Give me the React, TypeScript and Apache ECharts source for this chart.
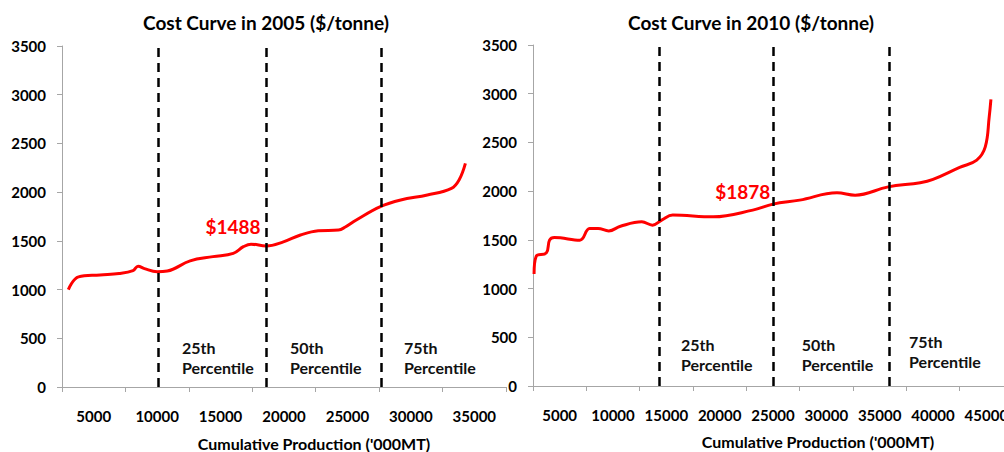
import { useEffect, useRef } from "react";
import * as echarts from "echarts";

// Cumulative production ('000MT) and cash cost ($/tonne) along each cost curve
const PRODUCTION_2005 = [
  3000, 3800, 5500, 7000, 8100, 8500, 9000, 10000, 10800, 12600, 14400, 16000,
  16800, 17400, 18600, 19950, 21300, 22700, 24300, 24800, 25700, 27600, 29200,
  31300, 33200, 33800, 34300,
];
const COST_2005 = [
  1000, 1130, 1150, 1165, 1195, 1240, 1215, 1183, 1190, 1295, 1338, 1372,
  1440, 1466, 1447, 1490, 1560, 1604, 1611, 1639, 1714, 1851, 1919, 1971,
  2039, 2125, 2296,
];

const PRODUCTION_2010 = [
  2600, 2800, 3750, 4050, 4500, 6900, 7800, 8600, 9600, 10700, 12700, 13700,
  14600, 15600, 19400, 23100, 25000, 27500, 31000, 32700, 35800, 38800, 40000,
  42500, 44100, 44900, 45270, 45430,
];
const COST_2010 = [
  1150, 1332, 1366, 1497, 1524, 1497, 1617, 1617, 1592, 1640, 1685, 1651,
  1705, 1754, 1736, 1805, 1867, 1908, 1983, 1959, 2044, 2086, 2120, 2244,
  2319, 2455, 2763, 2942,
];

// Percentile boundaries on the production axis
const PERCENTILE_NAMES = ["25th", "50th", "75th"];
const PERCENTILES_2005 = [10070, 18580, 27650];
const PERCENTILES_2010 = [14310, 25070, 35880];

// Cost at the 50th percentile
const MEDIAN_COST_2005 = 1488;
const MEDIAN_COST_2010 = 1878;

// Axis ticks and labels
const Y_TICKS = [0, 500, 1000, 1500, 2000, 2500, 3000, 3500];
const X_TICKS_2005 = [2500, 7500, 12500, 17500, 22500, 27500, 32500, 37500];
const X_LABELS_2005 = [5000, 10000, 15000, 20000, 25000, 30000, 35000];
const X_TICKS_2010 = [
  2500, 7500, 12500, 17500, 22500, 27500, 32500, 37500, 42500, 47500,
];
const X_LABELS_2010 = [
  5000, 10000, 15000, 20000, 25000, 30000, 35000, 40000, 45000,
];

const FONT = "Lato, 'Open Sans', sans-serif";
const AXIS_GRAY = "#a6a6a6";
const plain = (v: number) => String(v);

function xAxisFor(gridIndex: number, ticks: number[], labels: number[]) {
  return {
    type: "value",
    gridIndex,
    min: ticks[0],
    max: ticks[ticks.length - 1],
    splitLine: { show: false },
    axisLine: { show: true, lineStyle: { color: AXIS_GRAY, width: 1 } },
    axisTick: {
      show: true,
      length: 5,
      customValues: ticks,
      lineStyle: { color: AXIS_GRAY },
    },
    axisLabel: {
      customValues: labels,
      formatter: plain,
      margin: 21,
      color: "#000",
      fontFamily: FONT,
      fontWeight: "bold",
      fontSize: 15,
    },
  };
}

function yAxisFor(gridIndex: number) {
  return {
    type: "value",
    gridIndex,
    min: Y_TICKS[0],
    max: Y_TICKS[Y_TICKS.length - 1],
    interval: Y_TICKS[1] - Y_TICKS[0],
    splitLine: { show: false },
    axisLine: { show: true, lineStyle: { color: AXIS_GRAY, width: 1 } },
    axisTick: { show: true, length: 5, lineStyle: { color: AXIS_GRAY } },
    axisLabel: {
      formatter: plain,
      margin: 16,
      color: "#000",
      fontFamily: FONT,
      fontWeight: "bold",
      fontSize: 15,
    },
  };
}

function curveSeries(
  axisIndex: number,
  xs: number[],
  ys: number[],
  percentiles: number[],
  medianCost: number,
  medianOffset: number[],
  bandLabelY: number[],
  bandLabelDx: number[]
) {
  const hidden = { color: "rgba(0,0,0,0)" };
  return {
    type: "line",
    xAxisIndex: axisIndex,
    yAxisIndex: axisIndex,
    data: xs.map((x, i) => [x, ys[i]]),
    smooth: 0.4,
    showSymbol: false,
    symbol: "none",
    lineStyle: { color: "#ff0000", width: 3 },
    markLine: {
      silent: true,
      symbol: "none",
      label: { show: false },
      lineStyle: { color: "#000", width: 2.5, type: [9, 6] },
      data: percentiles.map((p) => ({ xAxis: p })),
    },
    markPoint: {
      silent: true,
      symbol: "circle",
      symbolSize: 1,
      itemStyle: hidden,
      data: [
        {
          coord: [percentiles[1], medianCost],
          label: {
            show: true,
            position: "inside",
            offset: medianOffset,
            formatter: "$" + medianCost,
            color: "#ff0000",
            fontFamily: FONT,
            fontWeight: "bold",
            fontSize: 19,
          },
        },
        ...percentiles.map((p, i) => ({
          coord: [p, bandLabelY[i]],
          label: {
            show: true,
            position: "inside",
            align: "left",
            verticalAlign: "middle",
            offset: [bandLabelDx[i], 0],
            formatter: PERCENTILE_NAMES[i] + "\nPercentile",
            lineHeight: 20,
            color: "#111",
            fontFamily: FONT,
            fontWeight: "bold",
            fontSize: 16,
          },
        })),
      ],
    },
  };
}

function textItem(text: string, x: number, y: number, size: number) {
  return {
    type: "text",
    x,
    y,
    silent: true,
    style: {
      text,
      fill: "#000",
      font: `bold ${size}px ${FONT}`,
      align: "center",
      verticalAlign: "middle",
      textAlign: "center",
      textVerticalAlign: "middle",
    },
  };
}

export default function App() {
  const ref = useRef<HTMLDivElement>(null);

  useEffect(() => {
    if (!ref.current) return;
    const chart = echarts.init(ref.current, null, { renderer: "svg" });
    chart.setOption({
      animation: false,
      backgroundColor: "#fff",
      grid: [
        { left: 62, top: 46, width: 444, height: 341, outerBoundsMode: "none" },
        { left: 533, top: 45, width: 480, height: 341, outerBoundsMode: "none" },
      ],
      xAxis: [
        xAxisFor(0, X_TICKS_2005, X_LABELS_2005),
        xAxisFor(1, X_TICKS_2010, X_LABELS_2010),
      ],
      yAxis: [yAxisFor(0), yAxisFor(1)],
      series: [
        curveSeries(
          0,
          PRODUCTION_2005,
          COST_2005,
          PERCENTILES_2005,
          MEDIAN_COST_2005,
          [-33, -16],
          [300, 300, 300],
          [24, 24, 23]
        ),
        curveSeries(
          1,
          PRODUCTION_2010,
          COST_2010,
          PERCENTILES_2010,
          MEDIAN_COST_2010,
          [-31, -12],
          [320, 320, 352],
          [22, 28, 20]
        ),
      ],
      graphic: [
        textItem("Cost Curve in 2005 ($/tonne)", 266, 22, 19),
        textItem("Cost Curve in 2010 ($/tonne)", 751, 22, 19),
        textItem("Cumulative Production ('000MT)", 314, 443, 16),
        textItem("Cumulative Production ('000MT)", 818, 441, 16),
      ],
    });
    return () => chart.dispose();
  }, []);

  return (
    <div
      ref={ref}
      style={{ position: "absolute", left: 0, top: 0, width: 1004, height: 452 }}
    />
  );
}
